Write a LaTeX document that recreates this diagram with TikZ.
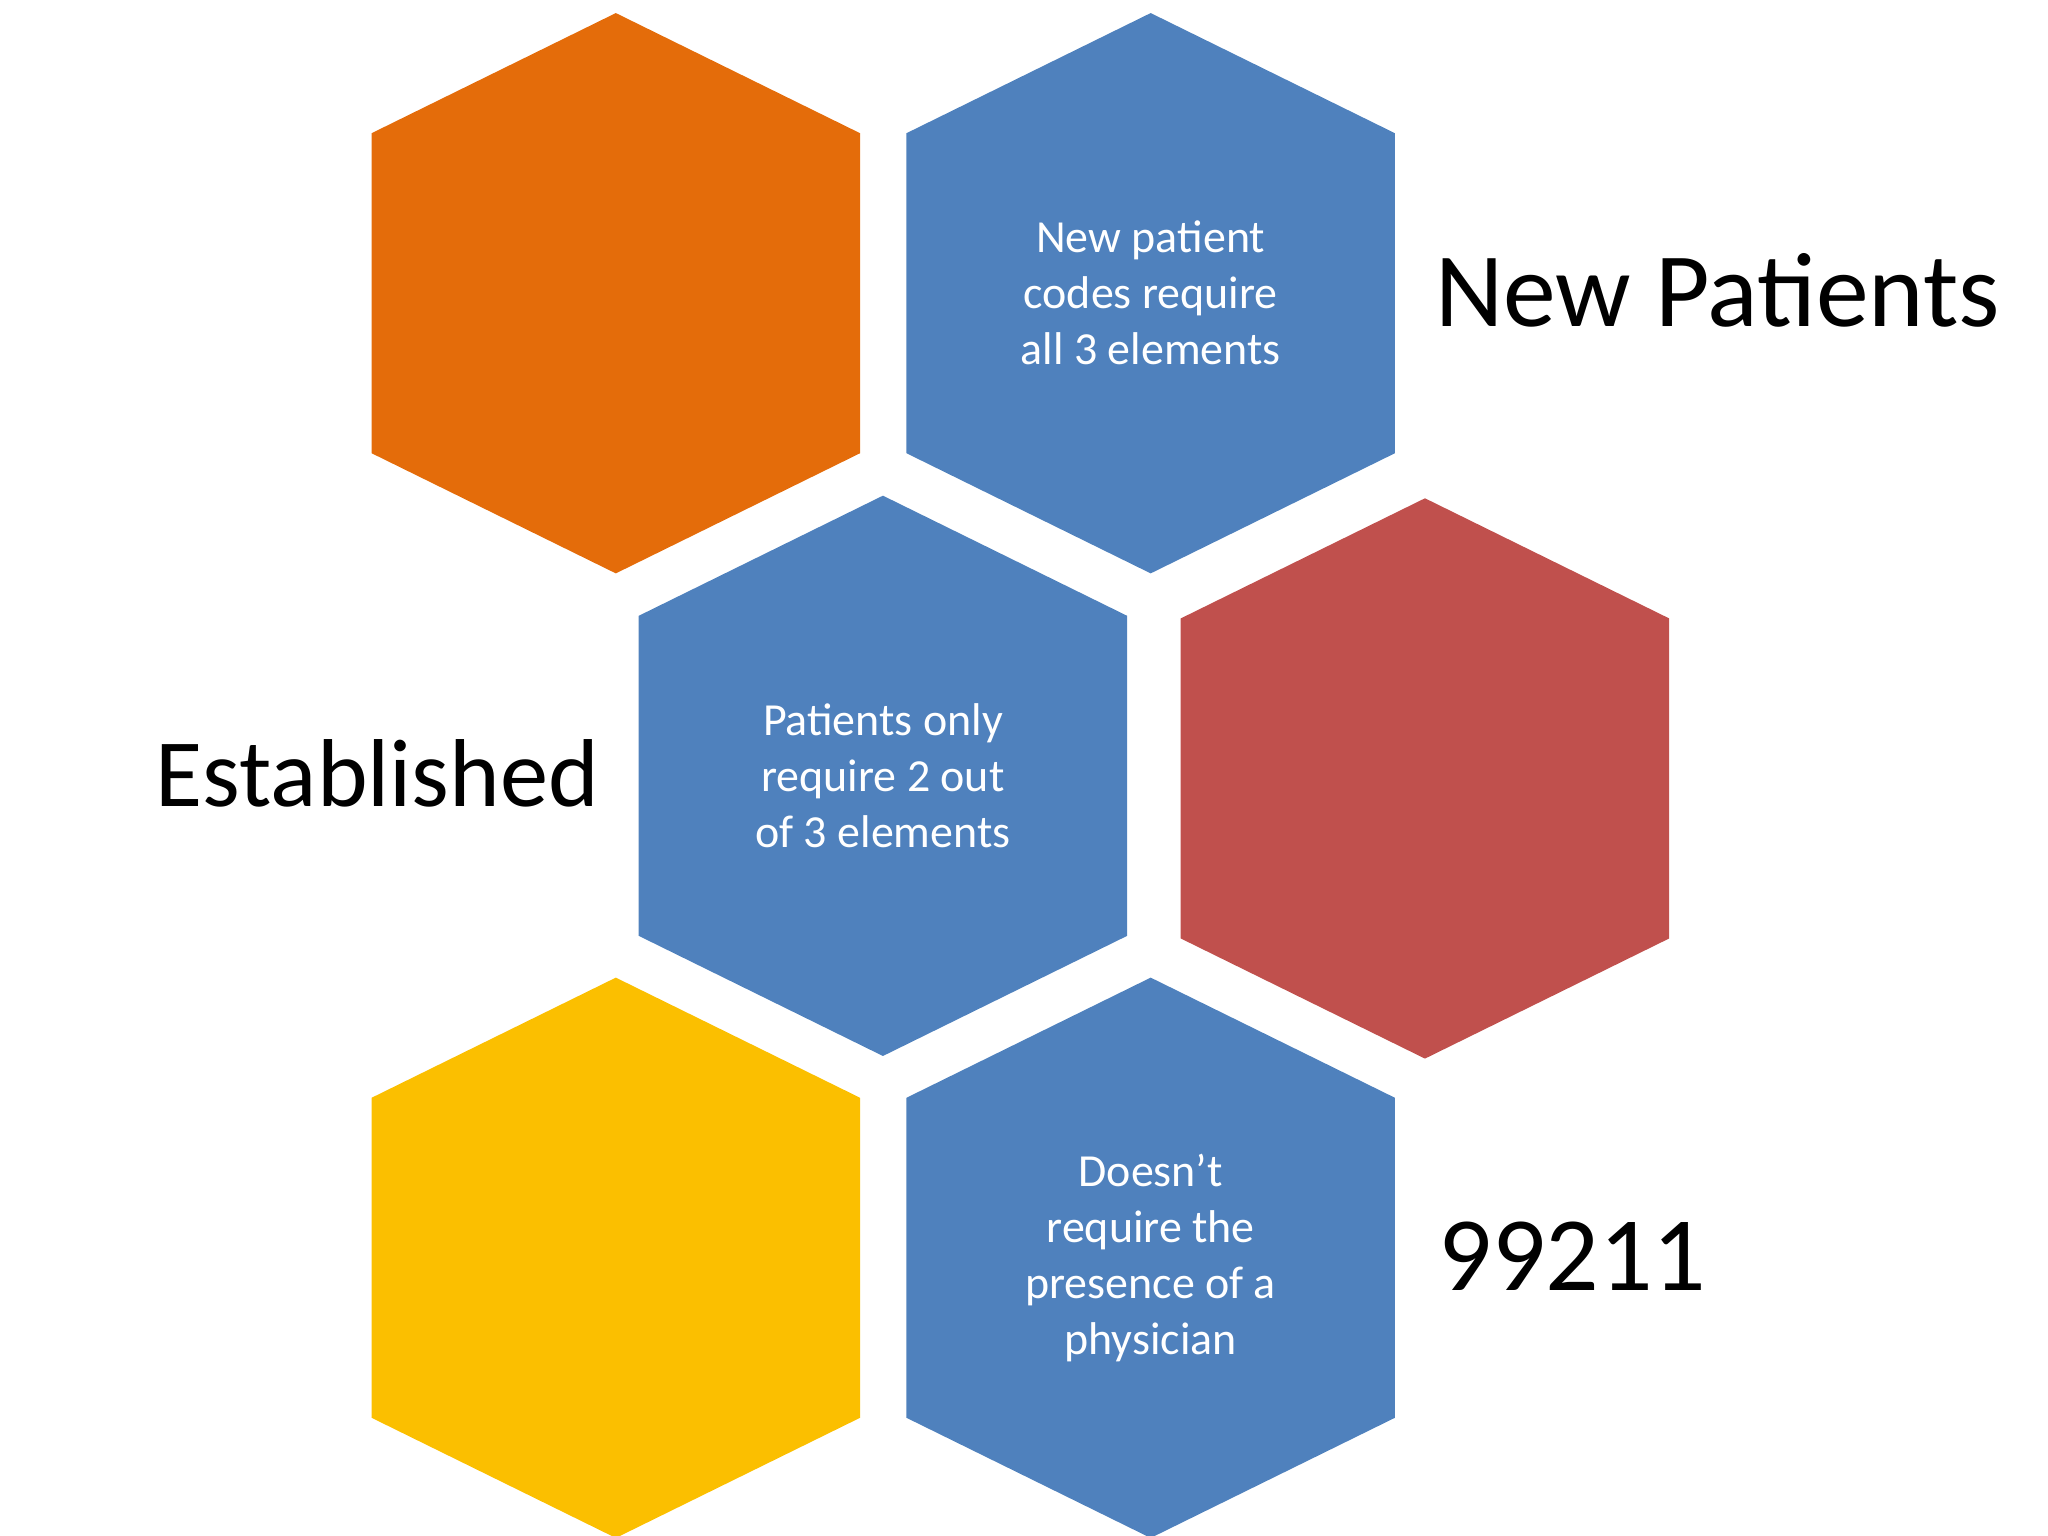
\documentclass[tikz,border=0pt]{standalone}
\usepackage{fontspec}
\setmainfont{Carlito}
\definecolor{horange}{HTML}{E46C0A}
\definecolor{hblue}{HTML}{4F81BD}
\definecolor{hred}{HTML}{C0504D}
\definecolor{hyellow}{HTML}{FBBF00}
\begin{document}
\begin{tikzpicture}[x=0.01cm,y=-0.01cm,
  hextxt/.style={text=white,align=center,font=\fontsize{10}{12.2}\selectfont},
  bigtxt/.style={font=\fontsize{23}{26}\selectfont}]
\useasboundingbox (0,0) rectangle (1568,1176);
\newcommand{\hexat}[3]{\fill[#3] (#1,#2-214.5) -- (#1+187,#2-122.5) -- (#1+187,#2+122.5) -- (#1,#2+214.5) -- (#1-187,#2+122.5) -- (#1-187,#2-122.5) -- cycle;}
\hexat{471.5}{224.5}{horange}
\hexat{881}{224.5}{hblue}
\hexat{676}{594}{hblue}
\hexat{1091}{596}{hred}
\hexat{471.5}{963}{hyellow}
\hexat{881}{963}{hblue}
\node[hextxt] (t1) at (881,224) {New patient\\codes require\\all 3 elements};
\node[hextxt] (t2) at (676,594) {Patients only\\require 2 out\\of 3 elements};
\node[hextxt] (t3) at (881,963) {Doesn’t\\require the\\presence of a\\physician};
\node[bigtxt] (l1) at (1315,222) {New Patients};
\node[bigtxt,font=\fontsize{21}{24}\selectfont] (l2) at (289,592) {Established};
\node[bigtxt] (l3) at (1204,962) {99211};
\end{tikzpicture}
\end{document}
